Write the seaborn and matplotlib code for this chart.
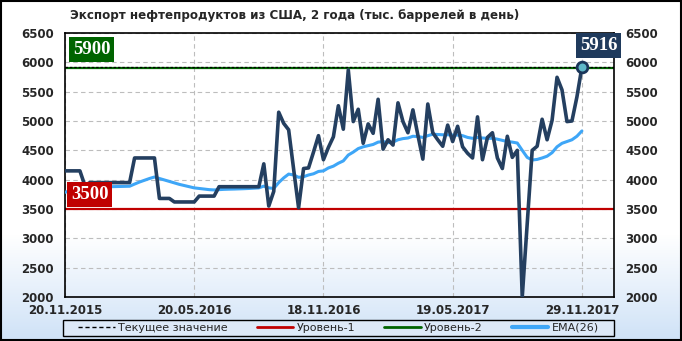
import numpy as np
import pandas as pd
import matplotlib
matplotlib.use('Agg')
import matplotlib.pyplot as plt
import seaborn as sns
from matplotlib.lines import Line2D
from matplotlib.colors import LinearSegmentedColormap
from matplotlib.patches import Rectangle

# ---------------- data ----------------
tick_labels = ["20.11.2015", "20.05.2016", "18.11.2016", "19.05.2017", "29.11.2017"]
exports = [4150, 4150, 4150, 4150, 3900, 3950, 3950, 3950, 3950, 3950,
           3950, 3950, 3950, 3950, 4370, 4370, 4370, 4370, 4370, 3680,
           3680, 3680, 3620, 3620, 3620, 3620, 3620, 3720, 3720, 3720,
           3720, 3880, 3880, 3880, 3880, 3880, 3880, 3880, 3880, 3880,
           4270, 3550, 3800, 5150, 4960, 4850, 4180, 3520, 4190, 4200,
           4470, 4750, 4340, 4550, 4730, 5260, 4860, 5870, 4990, 5200,
           4620, 4950, 4790, 5370, 4520, 4680, 4590, 5310, 4990, 4800,
           5190, 4760, 4350, 5290, 4800, 4680, 4570, 4930, 4650, 4910,
           4560, 4450, 4370, 5070, 4340, 4720, 4800, 4370, 4190, 4740,
           4380, 4500, 2000, 3250, 4500, 4570, 5030, 4680, 5010, 5745,
           5530, 4990, 5000, 5410, 5916]
ema26 = [3785, 3810, 3835, 3855, 3860, 3865, 3870, 3875, 3878, 3880,
         3882, 3884, 3886, 3888, 3925, 3960, 3990, 4020, 4045, 4020,
         3995, 3970, 3945, 3920, 3900, 3880, 3860, 3850, 3840, 3830,
         3825, 3830, 3835, 3838, 3840, 3843, 3846, 3850, 3855, 3860,
         3890, 3860, 3850, 3950, 4030, 4095, 4080, 4040, 4050, 4080,
         4100, 4140, 4150, 4200, 4230, 4280, 4320, 4420, 4470, 4530,
         4560, 4580, 4600, 4640, 4650, 4630, 4640, 4680, 4700, 4710,
         4740, 4735, 4720, 4750, 4775, 4770, 4765, 4765, 4760, 4760,
         4750, 4720, 4705, 4720, 4710, 4705, 4705, 4690, 4670, 4650,
         4640, 4625, 4500, 4380, 4335, 4345, 4370, 4400, 4460, 4560,
         4620, 4650, 4680, 4740, 4830]
level1 = 3500
level2 = 5900
current = 5916
legend_labels = ["Текущее значение", "Уровень-1", "Уровень-2", "EMA(26)"]
title = "Экспорт нефтепродуктов из США, 2 года (тыс. баррелей в день)"

df = pd.DataFrame({"week": np.arange(len(exports)), "exports": exports, "ema": ema26})

# ---------------- style ----------------
sns.set_theme(style="white")
plt.rcParams['font.family'] = ['DejaVu Sans']

NAVY = "#243f60"
EMA_C = "#3ea6f7"
RED = "#c00000"
GREEN = "#006400"

W, H = 682, 341
fig = plt.figure(figsize=(W / 100, H / 100), dpi=100)
fig.patch.set_facecolor("white")

# background gradient
bg = fig.add_axes([0, 0, 1, 1], zorder=-5)
bg.set_axis_off()
rows = np.linspace(0, 1, 341)
vals = np.clip((rows - 235 / 341) / (1 - 235 / 341), 0, 1)
cmap = LinearSegmentedColormap.from_list("g", ["#ffffff", "#cfe2f7"])
bg.imshow(vals[:, None], aspect="auto", cmap=cmap, extent=[0, 1, 0, 1], vmin=0, vmax=1)
bg.set_xlim(0, 1); bg.set_ylim(0, 1)
bg.add_patch(Rectangle((0.0015, 0.003), 0.997, 0.994, fill=False, edgecolor="black",
                       linewidth=1.5, transform=bg.transAxes))
# legend box
bg.add_patch(Rectangle((63 / W, 1 - 336 / H), (614 - 63) / W, 16 / H, facecolor="#dde9f8",
                       edgecolor="black", linewidth=1, transform=bg.transAxes, zorder=3))

left, right, bottom, top = 65 / W, 614 / W, 1 - 297 / H, 1 - 33 / H
ax = fig.add_axes([left, bottom, right - left, top - bottom], zorder=1)
ax.set_facecolor("none")

xmax = (614 - 65) / 4.97
ax.set_xlim(0, xmax)
ax.set_ylim(2000, 6500)

# grid
yt = np.arange(2000, 6501, 500)
xt = [0, 26, 52, 78, 104]
ax.set_yticks(yt)
ax.set_xticks(xt)
ax.set_xticklabels(tick_labels)
ax.grid(True, color="#bdbdbd", linestyle=(0, (4, 3)), linewidth=0.8)
ax.set_axisbelow(True)

# level lines
ax.axhline(level1, color=RED, linewidth=1.6, zorder=2)
ax.axhline(level2, color=GREEN, linewidth=1.6, zorder=2)
ax.axhline(current, color="black", linewidth=0.9, linestyle=(0, (2, 1.5)), zorder=2.5)

# series
sns.lineplot(data=df, x="week", y="ema", ax=ax, color=EMA_C, linewidth=2.2, zorder=3)
sns.lineplot(data=df, x="week", y="exports", ax=ax, color=NAVY, linewidth=2.6, zorder=4)
ax.scatter([df["week"].iloc[-1]], [exports[-1]], s=60, facecolor="#5fb8c8",
           edgecolor="#1a3559", linewidth=2, zorder=6, clip_on=False)

# label boxes
serif = dict(family="Liberation Serif", weight="bold", color="white", fontsize=13.5)
ax.text(1.6, 6222, str(level2), va="center", ha="left", zorder=7,
        bbox=dict(boxstyle="square,pad=0.2", facecolor=GREEN, edgecolor="none"), **serif)
ax.text(1.2, 3745, str(level1), va="center", ha="left", zorder=7,
        bbox=dict(boxstyle="square,pad=0.2", facecolor=RED, edgecolor="none"), **serif)
ax.text(107.4, 6285, str(current), va="center", ha="center", zorder=7, clip_on=False,
        bbox=dict(boxstyle="square,pad=0.2", facecolor="#1f3a5c", edgecolor="none"), **serif)

ax.set_xlabel("")
ax.set_ylabel("")
for s in ax.spines.values():
    s.set_color("black")
    s.set_linewidth(1.2)

ax.tick_params(axis="y", which="both", length=0, pad=8, labelsize=8.5,
               left=True, right=True, labelleft=True, labelright=True)
ax.tick_params(axis="x", length=0, pad=5, labelsize=8.5)
for lab in ax.get_xticklabels() + ax.get_yticklabels():
    lab.set_fontweight("bold")
for t in ax.yaxis.get_major_ticks():
    t.label2.set_fontweight("bold")
    t.label2.set_fontsize(8.5)

fig.text(70 / W, 1 - 15 / H, title, fontsize=8.6, fontweight="bold", va="center", ha="left")

handles = [Line2D([], [], color="black", linewidth=1, linestyle=(0, (3, 2))),
           Line2D([], [], color=RED, linewidth=2),
           Line2D([], [], color=GREEN, linewidth=2),
           Line2D([], [], color=EMA_C, linewidth=3)]
leg = fig.legend(handles, legend_labels, loc="center", ncol=4,
                 bbox_to_anchor=(338.5 / W, 1 - 328 / H),
                 borderaxespad=0, fontsize=8, frameon=False, borderpad=0.2,
                 handlelength=3.3, handletextpad=0.3, columnspacing=2.6)
leg.set_zorder(10)

fig.savefig("out.png", dpi=100)
